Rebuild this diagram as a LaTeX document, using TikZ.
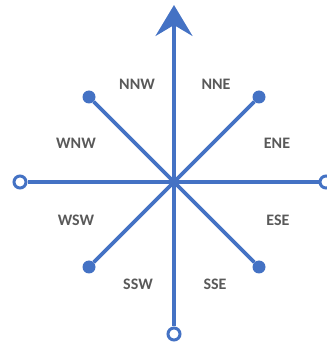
\documentclass[tikz,border=0pt]{standalone}
\usepackage{fontspec}
\setmainfont{Carlito}
\usetikzlibrary{arrows.meta}
\definecolor{cblue}{HTML}{4472C4}
\definecolor{cgray}{HTML}{595959}
\tikzset{
  ray/.style={draw=cblue, line width=3.8pt},
  opendot/.style={circle, draw=cblue, fill=white, line width=3pt, minimum size=12pt, inner sep=0pt},
  fulldot/.style={circle, fill=cblue, minimum size=13pt, inner sep=0pt},
  lbl/.style={text=cgray, font=\fontsize{16}{19}\selectfont\bfseries, inner sep=0pt}
}
\begin{document}
\begin{tikzpicture}[x=1pt,y=1pt]
\useasboundingbox (0,0) rectangle (327,346);
\coordinate (c) at (174,164);
\coordinate (n) at (174,341);
\node[opendot] (w) at (20,164) {};
\node[opendot] (e) at (326,164) {};
\node[opendot] (s) at (174,12) {};
\node[fulldot] (nw) at (89,249) {};
\node[fulldot] (ne) at (259,249) {};
\node[fulldot] (sw) at (89,79) {};
\node[fulldot] (se) at (259,79) {};
\draw[ray, -{Stealth[length=31pt,width=37pt,inset=11pt]}] (c) -- (n);
\draw[ray] (c) -- (w);
\draw[ray] (c) -- (e);
\draw[ray] (c) -- (s);
\draw[ray] (c) -- (nw);
\draw[ray] (c) -- (ne);
\draw[ray] (c) -- (sw);
\draw[ray] (c) -- (se);
\node[lbl] (nnw) at (137,262) {NNW};
\node[lbl] (nne) at (216,262) {NNE};
\node[lbl] (wnw) at (76,203) {WNW};
\node[lbl] (ene) at (277,203) {ENE};
\node[lbl] (wsw) at (76,126) {WSW};
\node[lbl] (ese) at (278,126) {ESE};
\node[lbl] (ssw) at (138,62) {SSW};
\node[lbl] (sse) at (215,62) {SSE};
\end{tikzpicture}
\end{document}
